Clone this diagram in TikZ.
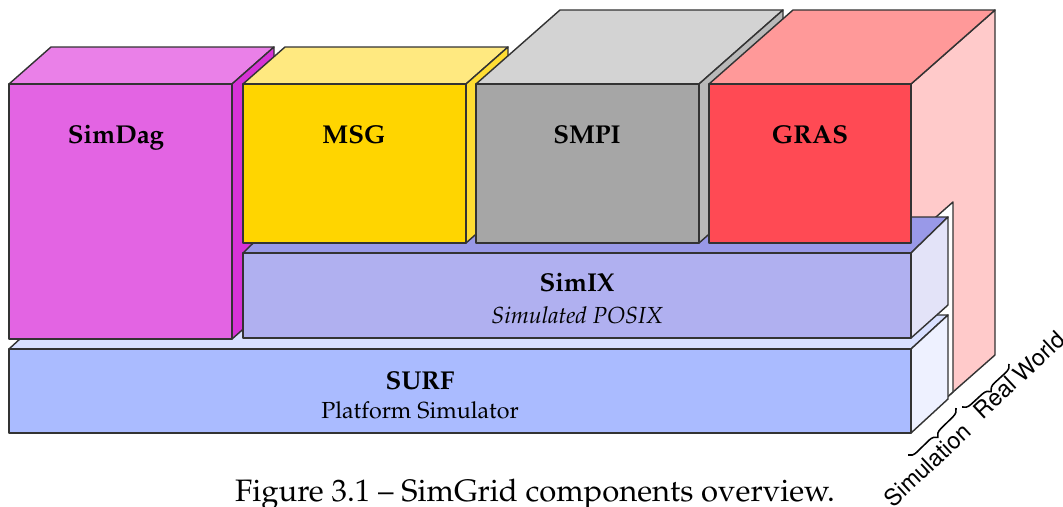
\documentclass[tikz,border=0pt]{standalone}
\usepackage[T1]{fontenc}
\usepackage{mathpazo}
\usepackage{helvet}
\usepackage{tikz}
\usetikzlibrary{decorations.pathreplacing}

\definecolor{dagfront}{HTML}{E364E3}
\definecolor{dagtop}{HTML}{EA80E8}
\definecolor{dagside}{HTML}{D633D6}
\definecolor{msgfront}{HTML}{FFD500}
\definecolor{msgtop}{HTML}{FFE980}
\definecolor{msgside}{HTML}{FFDD33}
\definecolor{smpifront}{HTML}{A6A6A6}
\definecolor{smpitop}{HTML}{D3D3D3}
\definecolor{smpiside}{HTML}{B9B9B9}
\definecolor{grasfront}{HTML}{FF4A54}
\definecolor{grastop}{HTML}{FF9999}
\definecolor{grasside}{HTML}{FFCACA}
\definecolor{simixfront}{HTML}{B0B0F0}
\definecolor{simixtop}{HTML}{9999E8}
\definecolor{simixside}{HTML}{E3E3F8}
\definecolor{surffront}{HTML}{AABBFF}
\definecolor{surftop}{HTML}{D9E0FF}
\definecolor{surfside}{HTML}{EEF1FF}

\begin{document}
\begin{tikzpicture}[x=0.387pt, y=-0.387pt,
	every node/.style = {inner sep=0pt},
	face/.style = {draw=black!80, line width=0.55pt, line join=round},
	title/.style = {font=\bfseries, anchor=base},
	subtitle/.style = {font=\small, anchor=base},
	world/.style = {font=\sffamily\small, rotate=43},
	brace/.style = {decorate, decoration={brace, amplitude=3.2pt}, line width=0.6pt}]
	\useasboundingbox (0,0) rectangle (1063,506);
	% real world and simulation panels
	\filldraw[face, fill=grasside] (911,84) -- (995,10) -- (995,355) -- (911,429) -- cycle;
	\filldraw[face, fill=white] (911,239) -- (953,202) -- (953,392) -- (911,429) -- cycle;
	% SURF
	\filldraw[face, fill=surftop] (9,349) -- (46,315) -- (948,315) -- (911,349) -- cycle;
	\filldraw[face, fill=surfside] (911,349) -- (948,315) -- (948,399) -- (911,433) -- cycle;
	\filldraw[face, fill=surffront] (9,349) rectangle (911,433);
	% SimDag
	\filldraw[face, fill=dagtop] (9,84) -- (51,47) -- (274,47) -- (232,84) -- cycle;
	\filldraw[face, fill=dagside] (232,84) -- (274,47) -- (274,302) -- (232,339) -- cycle;
	\filldraw[face, fill=dagfront] (9,84) rectangle (232,339);
	% SimIX
	\filldraw[face, fill=simixtop] (243,253) -- (280,217) -- (948,217) -- (911,253) -- cycle;
	\filldraw[face, fill=simixside] (911,253) -- (948,217) -- (948,305) -- (911,338) -- cycle;
	\filldraw[face, fill=simixfront] (243,253) rectangle (911,338);
	% MSG
	\filldraw[face, fill=msgtop] (243,84) -- (285,47) -- (508,47) -- (466,84) -- cycle;
	\filldraw[face, fill=msgside] (466,84) -- (508,47) -- (508,206) -- (466,243) -- cycle;
	\filldraw[face, fill=msgfront] (243,84) rectangle (466,243);
	% SMPI
	\filldraw[face, fill=smpitop] (476,84) -- (560,10) -- (783,10) -- (699,84) -- cycle;
	\filldraw[face, fill=smpiside] (699,84) -- (783,10) -- (783,169) -- (699,243) -- cycle;
	\filldraw[face, fill=smpifront] (476,84) rectangle (699,243);
	% GRAS
	\filldraw[face, fill=grastop] (709,84) -- (793,10) -- (995,10) -- (911,84) -- cycle;
	\filldraw[face, fill=grasfront] (709,84) rectangle (911,243);

	\node[title] (simdag) at (116,143) {SimDag};
	\node[title] (msg) at (354,143) {MSG};
	\node[title] (smpi) at (587,143) {SMPI};
	\node[title] (gras) at (810,143) {GRAS};
	\node[title] (simix) at (577,291) {SimIX};
	\node[subtitle, font=\small\itshape] (posix) at (577,323) {Simulated POSIX};
	\node[title] (surf) at (420,389) {SURF};
	\node[subtitle] (platform) at (420,418) {Platform Simulator};

	\coordinate (simtop) at (956,408);
	\coordinate (simbot) at (908,455);
	\coordinate (realtop) at (1009,364);
	\coordinate (realbot) at (962,407);
	\draw[brace] (simtop) -- (simbot);
	\draw[brace] (realtop) -- (realbot);
	\node[world] (simulation) at (927,465) {Simulation};
	\node[world] (realworld) at (1019,375) {Real World};

	\node[font=\large, anchor=base] (caption) at (535,501) {Figure 3.1 -- SimGrid components overview.};
\end{tikzpicture}
\end{document}
